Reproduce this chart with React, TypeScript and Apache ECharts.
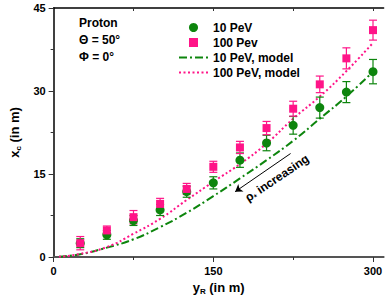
import React, { useEffect, useRef } from 'react';
import * as echarts from 'echarts';

const xValues = [25, 50, 75, 100, 125, 150, 175, 200, 225, 250, 275, 300];
const pev10 = [2.5, 4.0, 6.6, 8.5, 11.8, 13.4, 17.5, 20.6, 23.8, 27.0, 29.8, 33.5];
const pev10Err = [0.8, 0.8, 0.9, 1.0, 1.0, 1.1, 1.3, 1.4, 1.6, 1.9, 1.9, 2.2];
const pev100 = [2.5, 4.8, 7.2, 9.6, 12.3, 16.3, 19.8, 23.3, 26.8, 31.2, 35.9, 41.0];
const pev100Err = [1.2, 0.8, 1.2, 1.0, 1.0, 1.0, 1.1, 1.2, 1.35, 1.5, 1.9, 1.8];
const modelX = [5, 25, 50, 75, 100, 125, 150, 175, 200, 225, 250, 275, 300];
const model10 = [0.05, 0.5, 1.7, 3.2, 5.4, 8.0, 11.0, 14.2, 17.5, 21.0, 25.0, 29.0, 33.5];
const model100 = [0.05, 0.55, 1.8, 4.2, 6.9, 10.3, 13.6, 16.8, 20.5, 25.0, 29.0, 33.6, 38.7];
const xMajorTicks = [0, 150, 300];
const xMinorTicks = [75, 225];
const xTopTicks = [75, 150, 225, 300];
const infoLines = ['Proton', 'Θ = 50°', 'Φ = 0°'];

const GREEN = '#0d850d';
const PINK = '#ff1488';
const FONT = '"Liberation Sans", Arial, sans-serif';
const SQUARE = 'path://M0,0h10v10h-10z';

function errorSeries(values: number[], errs: number[], color: string) {
  return {
    type: 'custom',
    xAxisIndex: 0,
    yAxisIndex: 0,
    silent: true,
    z: 3,
    data: xValues.map((x, i) => [x, values[i], errs[i]]),
    renderItem: (params: any, api: any) => {
      const x = api.value(0);
      const y = api.value(1);
      const e = api.value(2);
      const top = api.coord([x, y + e]);
      const bot = api.coord([x, y - e]);
      const cap = 4;
      const style = { stroke: color, lineWidth: 1.2 };
      return {
        type: 'group',
        children: [
          { type: 'line', shape: { x1: top[0], y1: top[1], x2: bot[0], y2: bot[1] }, style },
          { type: 'line', shape: { x1: top[0] - cap, y1: top[1], x2: top[0] + cap, y2: top[1] }, style },
          { type: 'line', shape: { x1: bot[0] - cap, y1: bot[1], x2: bot[0] + cap, y2: bot[1] }, style },
        ],
      };
    },
  };
}

export default function App() {
  const ref = useRef<HTMLDivElement>(null);
  useEffect(() => {
    if (!ref.current) return;
    const chart = echarts.init(ref.current, undefined, { renderer: 'svg' });
    const labelStyle = { fontFamily: FONT, fontWeight: 'bold', fontSize: 11, color: '#000' };
    const nameRich = {
      a: { fontFamily: FONT, fontWeight: 'bold', fontSize: 13, color: '#000' },
      s: { fontFamily: FONT, fontWeight: 'bold', fontSize: 8, color: '#000', padding: [8, 0, 0, 0] },
    };
    chart.setOption({
      animation: false,
      textStyle: { fontFamily: FONT },
      title: {
        text: infoLines.join('\n'),
        left: 79,
        top: 14,
        padding: 0,
        textStyle: { fontFamily: FONT, fontWeight: 'bold', fontSize: 12, color: '#000', lineHeight: 17 },
      },
      grid: { left: 48, right: 0, top: 8, bottom: 45 },
      xAxis: [
        {
          type: 'value', position: 'bottom', min: 0, max: 310,
          axisLine: { show: true, lineStyle: { color: '#555', width: 2 } },
          axisTick: { show: true, customValues: xMajorTicks, length: 5, lineStyle: { color: '#333', width: 1 } },
          axisLabel: { ...labelStyle, customValues: xMajorTicks, margin: 8 },
          splitLine: { show: false },
          name: '{a|y}{s|R}{a| (in m)}',
          nameLocation: 'middle',
          nameGap: 22,
          nameTextStyle: { rich: nameRich },
        },
        {
          type: 'value', position: 'bottom', min: 0, max: 310,
          axisLine: { show: false },
          axisTick: { show: true, customValues: xMinorTicks, length: 3, lineStyle: { color: '#333', width: 1 } },
          axisLabel: { show: false },
          splitLine: { show: false },
        },
        {
          type: 'value', position: 'top', min: 0, max: 310,
          axisLine: { show: true, lineStyle: { color: '#000', width: 1.5 } },
          axisTick: { show: true, inside: true, customValues: xTopTicks, length: 3, lineStyle: { color: '#333', width: 1 } },
          axisLabel: { show: false },
          splitLine: { show: false },
        },
      ],
      yAxis: [
        {
          type: 'value', min: 0, max: 45, interval: 15,
          axisLine: { show: true, lineStyle: { color: '#000', width: 1.5 } },
          axisTick: { show: true, length: 5, lineStyle: { color: '#333', width: 1 } },
          minorTick: { show: true, splitNumber: 2, length: 3, lineStyle: { color: '#333', width: 1 } },
          axisLabel: { ...labelStyle, margin: 8 },
          splitLine: { show: false },
          name: '{a|x}{s|c}{a| (in m)}',
          nameLocation: 'middle',
          nameGap: 26,
          nameTextStyle: { rich: nameRich },
        },
      ],
      legend: {
        orient: 'vertical',
        left: 173,
        top: 16,
        itemWidth: 29,
        itemHeight: 9,
        itemGap: 2,
        textStyle: { fontFamily: FONT, fontWeight: 'bold', fontSize: 12, color: '#000', lineHeight: 13 },
        data: [
          { name: '10 PeV', icon: 'circle' },
          { name: '100 Pev', icon: SQUARE },
          { name: '10 PeV, model', itemStyle: { opacity: 0 } },
          { name: '100 PeV, model', itemStyle: { opacity: 0 } },
        ],
      },
      graphic: [
        {
          type: 'text', x: 277, y: 178, rotation: (34 * Math.PI) / 180,
          style: {
            text: '{a|ρ}{s|*}{a| increasing}',
            align: 'center', verticalAlign: 'middle',
            rich: {
              a: { font: `bold 12px ${FONT}`, fill: '#000' },
              s: { font: `bold 8px ${FONT}`, fill: '#000', padding: [8, 0, 0, 0] },
            },
          },
        },
      ],
      series: [
        {
          name: '10 PeV, model', type: 'line', smooth: true, symbol: 'none', z: 2,
          data: modelX.map((x, i) => [x, model10[i]]),
          lineStyle: { color: GREEN, width: 2, type: [8, 3, 2, 3] },
          itemStyle: { color: GREEN },
          markLine: {
            silent: true,
            symbol: ['arrow', 'none'],
            symbolSize: 7,
            label: { show: false },
            lineStyle: { color: '#000', width: 1, type: 'solid' },
            data: [[{ coord: [170.5, 11.8] }, { coord: [222.6, 18.7] }]],
          },
        },
        {
          name: '100 PeV, model', type: 'line', smooth: true, symbol: 'none', z: 2,
          data: modelX.map((x, i) => [x, model100[i]]),
          lineStyle: { color: PINK, width: 2, type: [2, 2.5] },
          itemStyle: { color: PINK },
        },
        errorSeries(pev10, pev10Err, GREEN),
        {
          name: '10 PeV', type: 'scatter', symbol: 'circle', symbolSize: 9, z: 4,
          data: xValues.map((x, i) => [x, pev10[i]]),
          itemStyle: { color: GREEN, opacity: 1 },
        },
        errorSeries(pev100, pev100Err, PINK),
        {
          name: '100 Pev', type: 'scatter', symbol: 'rect', symbolSize: 8, z: 5, symbolKeepAspect: true,
          data: xValues.map((x, i) => [x, pev100[i]]),
          itemStyle: { color: PINK, opacity: 1 },
        },
      ],
    });
    return () => chart.dispose();
  }, []);
  return <div ref={ref} style={{ position: 'fixed', left: 0, top: 0, width: 385, height: 302, background: '#fff' }} />;
}
